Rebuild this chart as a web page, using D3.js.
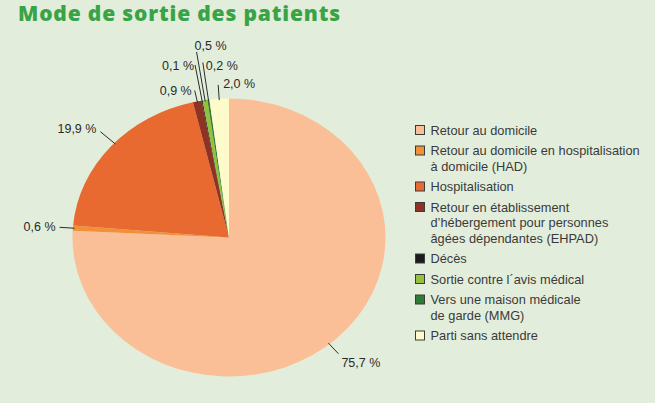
<!DOCTYPE html>
<html>
<head>
<meta charset="utf-8">
<script src="https://cdn.jsdelivr.net/npm/d3@7"></script>
<style>
  body { margin: 0; background: #e2eedb; }
  svg { display: block; }
</style>
</head>
<body>
<div id="chart"></div>
<script>
// Data
var categories = [
    "Retour au domicile",
    "Retour au domicile en hospitalisation à domicile (HAD)",
    "Hospitalisation",
    "Retour en établissement d'hébergement pour personnes âgées dépendantes (EHPAD)",
    "Décès",
    "Sortie contre l´avis médical",
    "Vers une maison médicale de garde (MMG)",
    "Parti sans attendre"
];
var values = [75.7, 0.6, 19.9, 0.9, 0.1, 0.5, 0.2, 2.0];

// legend text, broken on lines as in the picture
var legendLines = [
    ["Retour au domicile"],
    ["Retour au domicile en hospitalisation", "à domicile (HAD)"],
    ["Hospitalisation"],
    ["Retour en établissement", "d’hébergement pour personnes", "âgées dépendantes (EHPAD)"],
    ["Décès"],
    ["Sortie contre l´avis médical"],
    ["Vers une maison médicale", "de garde (MMG)"],
    ["Parti sans attendre"]
];

var colors = ["#fabf96", "#f0913a", "#e86a30", "#8e3324", "#1c1c1c", "#93c13e", "#2f7a36", "#fdfbc9"];

// leader line layout: f = outer radius factor, da = angle shift (deg), text offsets
var labelLayout = [
    { f: 1.09, da: 3.7, dx: 3, dy: 13, anchor: "start" },
    { f: 1.085, da: 0, dx: -4, dy: 4, anchor: "end" },
    { f: 1.12, da: 2, dx: -4, dy: 1, anchor: "end" },
    { f: 1.08, da: 0, dx: -3, dy: 4, anchor: "end" },
    { f: 1.26, da: 0, dx: -1, dy: 5, anchor: "end" },
    { f: 1.35, da: 0, dx: -2, dy: -2, anchor: "start" },
    { f: 1.27, da: 0, dx: 3, dy: 7, anchor: "start" },
    { f: 1.10, da: 0, dx: 5, dy: 3, anchor: "start" }
];

var width = 655, height = 403;
var cx = 229, cy = 237.5, rx = 156.5, ry = 139;
var font = "Liberation Sans, Arial, sans-serif";

var svg = d3.select("#chart").append("svg")
    .attr("width", width)
    .attr("height", height);

svg.append("rect")
    .attr("width", width)
    .attr("height", height)
    .attr("fill", "#e2eedb");

// title, stretched by letter spacing to the reference width
var titleText = "Mode de sortie des patients";
var title = svg.append("text")
    .attr("x", 18)
    .attr("y", 21)
    .attr("font-family", "Open Sans, sans-serif")
    .attr("font-weight", 800)
    .attr("font-size", 21)
    .attr("fill", "#3aa346")
    .text(titleText);
var tw = title.node().getComputedTextLength();
title.attr("letter-spacing", Math.max(0, (322 - tw) / (titleText.length - 1)));

var data = categories.map(function(c, i) { return { category: c, value: values[i] }; });

var pie = d3.pie()
    .sort(null)
    .value(function(d) { return d.value; });

var arcs = pie(data);

var arc = d3.arc()
    .outerRadius(ry)
    .innerRadius(0);

// pie is slightly stretched horizontally in the reference
var g = svg.append("g")
    .attr("transform", "translate(" + cx + "," + cy + ") scale(" + (rx / ry) + ",1)");

g.selectAll(".slice")
    .data(arcs)
    .enter().append("path")
    .attr("class", "slice")
    .attr("d", arc)
    .attr("fill", function(d, i) { return colors[i]; })
    .attr("stroke", "none");

var fmt = d3.formatLocale({ decimal: ",", thousands: " ", grouping: [3], currency: ["", " €"] }).format(".1f");

function pt(a, f) {
    return [cx + rx * f * Math.sin(a), cy - ry * f * Math.cos(a)];
}

var labels = svg.append("g");

arcs.forEach(function(d, i) {
    var L = labelLayout[i];
    var a = (d.startAngle + d.endAngle) / 2 + L.da * Math.PI / 180;
    var p0 = pt(a, 0.99), p1 = pt(a, L.f);
    labels.append("line")
        .attr("x1", p0[0]).attr("y1", p0[1])
        .attr("x2", p1[0]).attr("y2", p1[1])
        .attr("stroke", "#2b2b2b")
        .attr("stroke-width", 1);
    labels.append("text")
        .attr("x", p1[0] + L.dx)
        .attr("y", p1[1] + L.dy)
        .attr("text-anchor", L.anchor)
        .attr("font-family", font)
        .attr("font-size", 12.5)
        .attr("fill", "#2a2a2a")
        .text(fmt(d.data.value) + " %");
});

// legend
var legend = svg.append("g").attr("transform", "translate(415,0)");
var lineH = 15.5, gap = 5, y = 130;
legendLines.forEach(function(lines, i) {
    legend.append("rect")
        .attr("x", 0.5)
        .attr("y", y - 4.5)
        .attr("width", 9)
        .attr("height", 9)
        .attr("fill", colors[i])
        .attr("stroke", "#3a3a3a")
        .attr("stroke-width", 1);
    lines.forEach(function(t, j) {
        legend.append("text")
            .attr("x", 15.5)
            .attr("y", y + j * lineH + 4.5)
            .attr("font-family", font)
            .attr("font-size", 12.8)
            .attr("fill", "#3a3a3a")
            .text(t);
    });
    y += lines.length * lineH + gap;
});
</script>
</body>
</html>
